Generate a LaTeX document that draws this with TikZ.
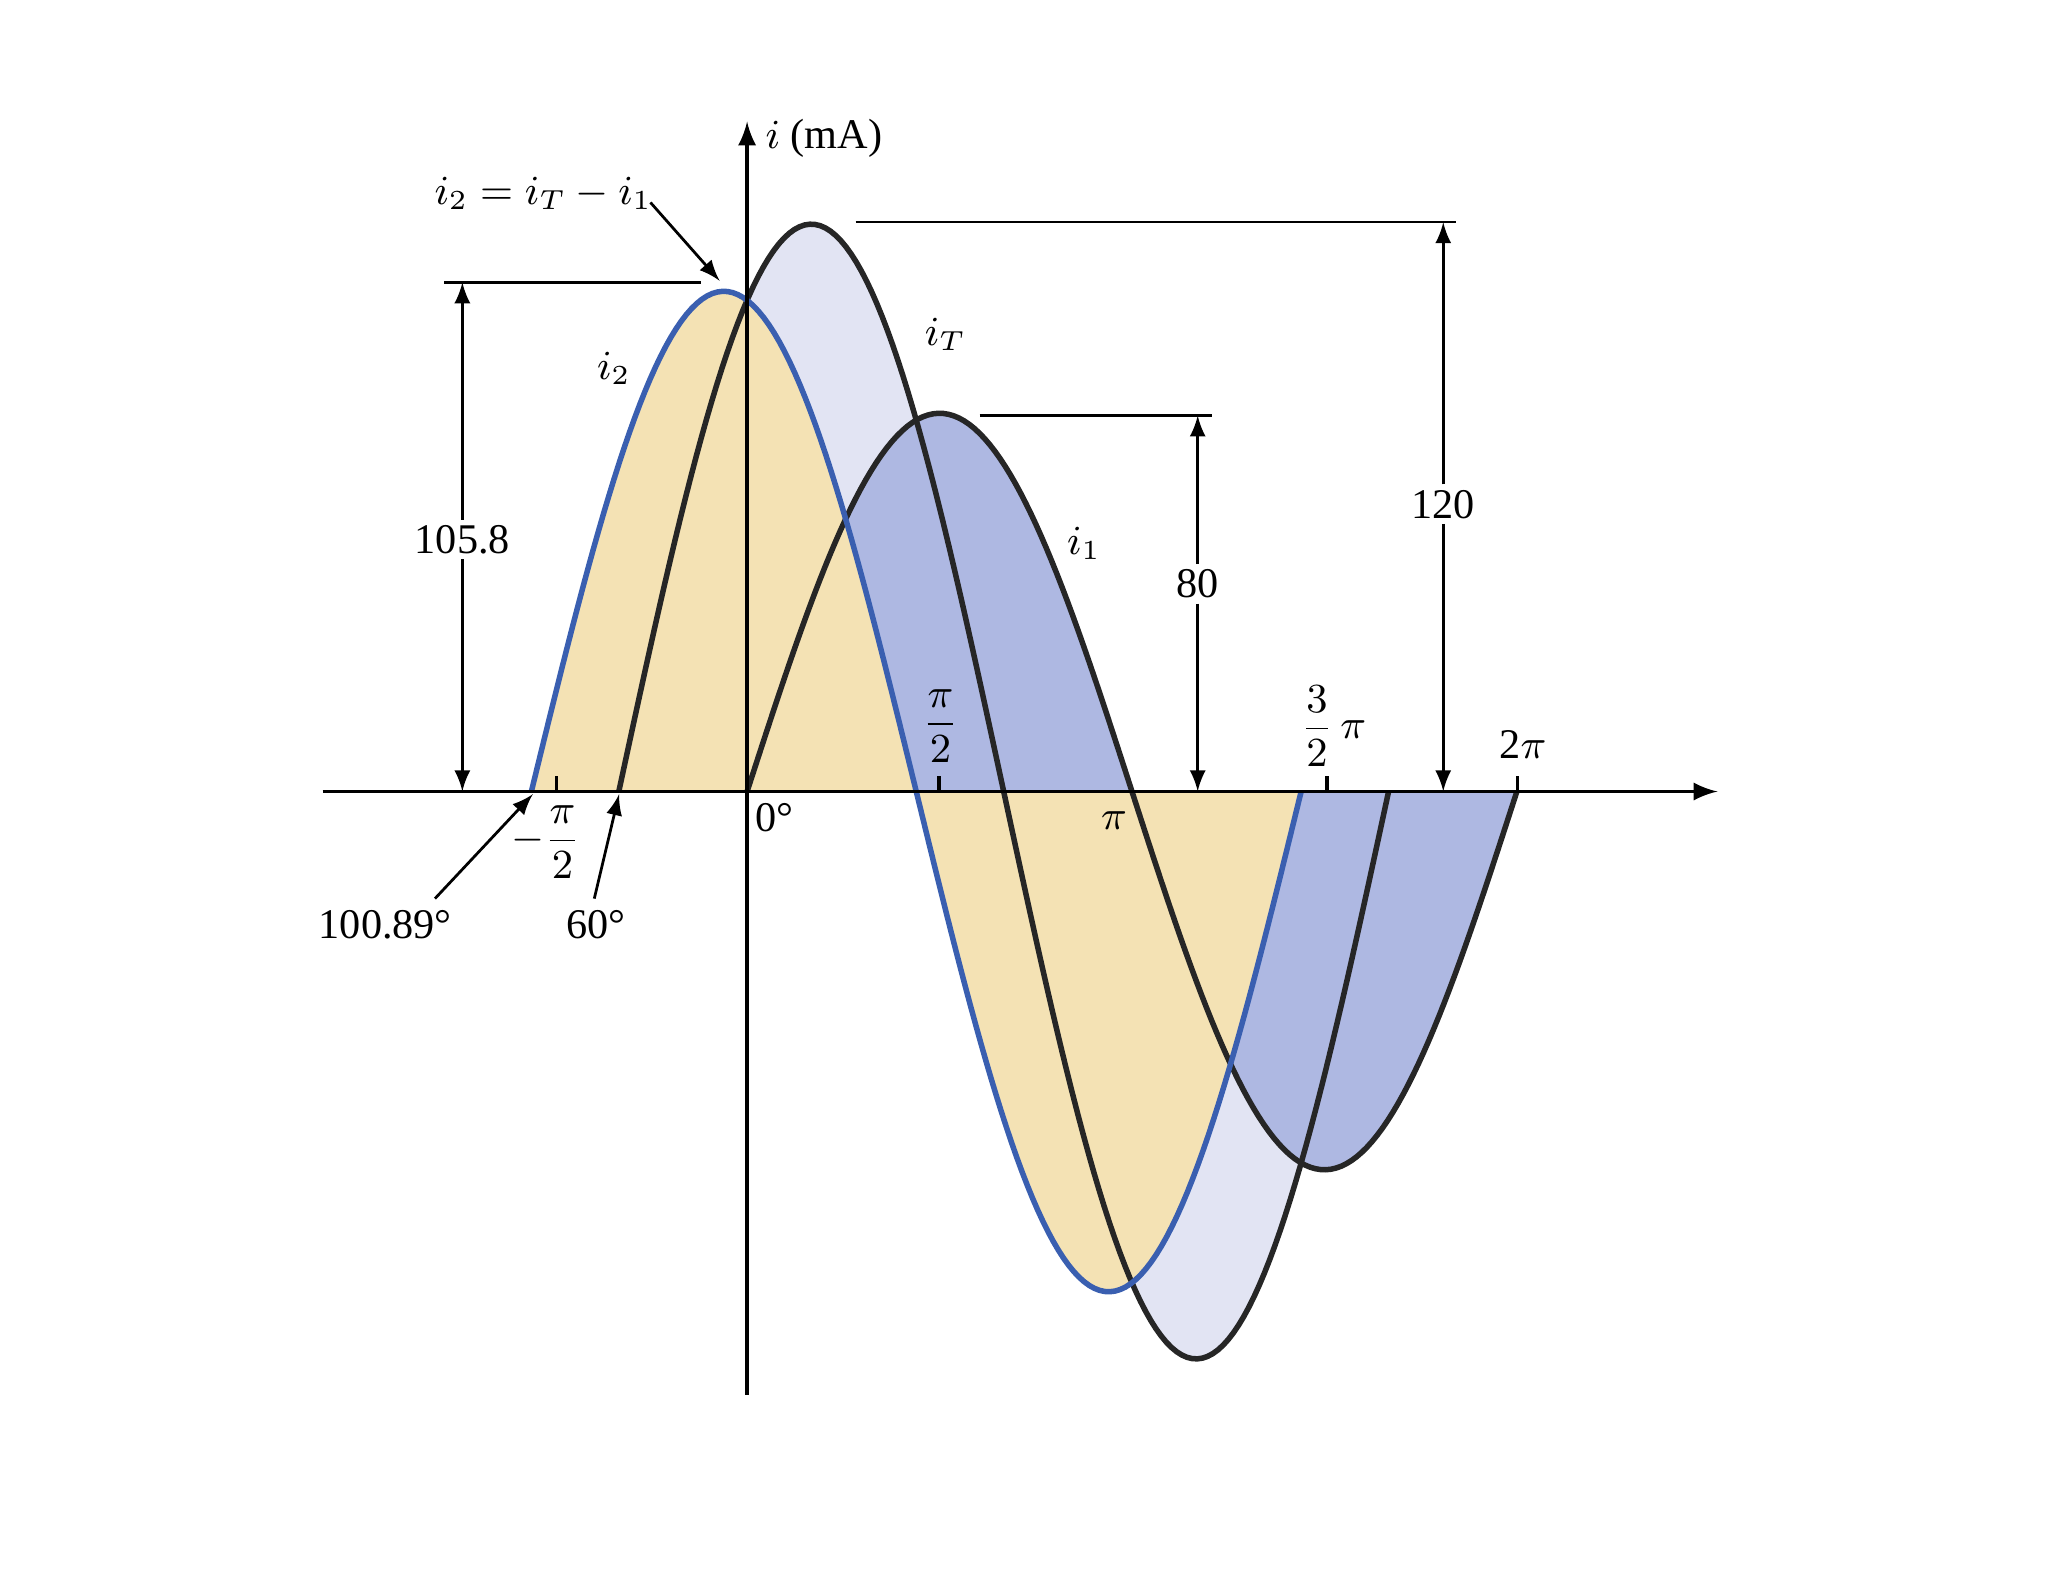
\documentclass[tikz,border=0pt]{standalone}
\usepackage{amsmath}
\usepackage{fontspec}
\setmainfont{Liberation Serif}
\begin{document}
\begin{tikzpicture}[x=0.01cm,y=-0.01cm,
  lbl/.style={font=\fontsize{9.2}{11}\selectfont, inner sep=1pt},
  dim/.style={thin,-latex,line width=0.6pt},
  ext/.style={line width=0.6pt}]
\definecolor{lav}{RGB}{226,228,243}
\definecolor{ylw}{RGB}{244,226,180}
\definecolor{blu}{RGB}{174,184,226}
\definecolor{curveb}{RGB}{58,95,176}
\useasboundingbox (0,0) rectangle (1568,1211);
% fills
\fill[lav] plot[domain=-1.0472:5.236,samples=150] ({572+93.8*\x},{606-3.62*120*sin(deg(\x)+60)}) -- cycle;
\fill[blu] plot[domain=0:6.2832,samples=150] ({572+93.8*\x},{606-3.62*80*sin(deg(\x))}) -- cycle;
\fill[ylw] plot[domain=-1.7609:4.5223,samples=150] ({572+93.8*\x},{606-3.62*105.8*sin(deg(\x)+100.89)}) -- cycle;
% curves
\draw[line width=1.2pt,black!85] plot[domain=-1.0472:5.236,samples=150] ({572+93.8*\x},{606-3.62*120*sin(deg(\x)+60)});
\draw[line width=1.2pt,black!85] plot[domain=0:6.2832,samples=150] ({572+93.8*\x},{606-3.62*80*sin(deg(\x))});
\draw[line width=1.2pt,curveb] plot[domain=-1.7609:4.5223,samples=150] ({572+93.8*\x},{606-3.62*105.8*sin(deg(\x)+100.89)});
% axes
\coordinate (xa0) at (247,606); \coordinate (xa1) at (1315,606);
\coordinate (ya0) at (572,1068); \coordinate (ya1) at (572,93);
\draw[line width=0.8pt,-latex] (xa0) -- (xa1);
\draw[line width=0.8pt,-latex] (ya0) -- (ya1);
\node[lbl,anchor=west] (ylab) at (582,106) {$i$ (mA)};
% ticks
\foreach \tx/\nm in {426/ta,719/tb,1016/tc,1162/td}{
  \coordinate (\nm0) at (\tx,606); \coordinate (\nm1) at (\tx,594);
  \draw[line width=0.7pt] (\nm0) -- (\nm1);}
\node[lbl] (lmpi2) at (418,645) {$-\dfrac{\pi}{2}$};
\node[lbl] (l0) at (593,626) {0°};
\node[lbl] (lpi2) at (720,556) {$\dfrac{\pi}{2}$};
\node[lbl] (lpi) at (853,628) {$\pi$};
\node[lbl] (l3pi2) at (1021,556) {$\dfrac{3}{2}\,\pi$};
\node[lbl] (l2pi) at (1166,570) {2$\pi$};
% curve labels
\node[lbl] (liT) at (724,256) {$i_T$};
\node[lbl] (li2) at (470,282) {$i_2$};
\node[lbl] (li1) at (830,416) {$i_1$};
\node[lbl] (leq) at (416,148) {$i_2 = i_T - i_1$};
\coordinate (eqs) at (498,155);
\coordinate (eqtip) at (551,215);
\draw[dim] (eqs) -- (eqtip);
% angle labels
\node[lbl] (l100) at (295,708) {100.89°};
\node[lbl] (l60) at (456,708) {60°};
\coordinate (p100) at (408,608); \coordinate (p60) at (474,608);
\coordinate (s100) at (333,688); \coordinate (s60) at (455,688);
\draw[dim] (s100) -- (p100);
\draw[dim] (s60) -- (p60);
% dimension 105.8
\coordinate (e1a) at (340,216); \coordinate (e1b) at (537,216);
\draw[ext] (e1a) -- (e1b);
\node[lbl,fill=white] (d1) at (354,413) {105.8};
\coordinate (d1t) at (354,216); \coordinate (d1b) at (354,606);
\draw[dim] (d1.north) -- (d1t); \draw[dim] (d1.south) -- (d1b);
% dimension 80
\coordinate (e2a) at (750,318); \coordinate (e2b) at (928,318);
\draw[ext] (e2a) -- (e2b);
\node[lbl,fill=white] (d2) at (917,447) {80};
\coordinate (d2t) at (917,318); \coordinate (d2b) at (917,606);
\draw[dim] (d2.north) -- (d2t); \draw[dim] (d2.south) -- (d2b);
% dimension 120
\coordinate (e3a) at (655,170); \coordinate (e3b) at (1115,170);
\draw[ext] (e3a) -- (e3b);
\node[lbl,fill=white] (d3) at (1105,386) {120};
\coordinate (d3t) at (1105,170); \coordinate (d3b) at (1105,606);
\draw[dim] (d3.north) -- (d3t); \draw[dim] (d3.south) -- (d3b);
\end{tikzpicture}
\end{document}
